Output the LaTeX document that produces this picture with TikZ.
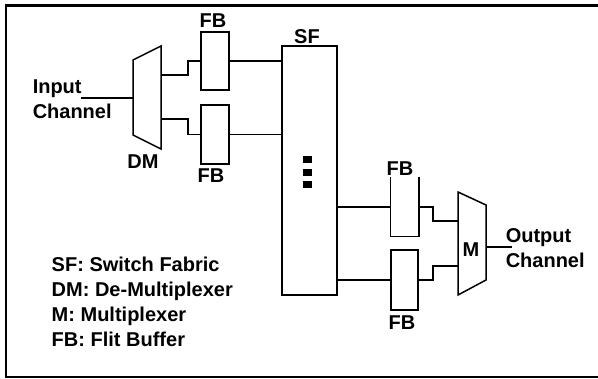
\documentclass[tikz,border=0pt]{standalone}
\usepackage{fontspec}
\setmainfont{Liberation Sans}
\begin{document}
\begin{tikzpicture}[x=1pt,y=-1pt,line width=1.5pt,
  lbl/.style={font=\bfseries\fontsize{20}{25}\selectfont,inner sep=0pt},
  ml/.style={lbl,align=left,anchor=north west},
  bufbox/.style={draw,inner sep=0pt,minimum width=28pt},
  plainbox/.style={inner sep=0pt,minimum width=27pt},
  dotsq/.style={fill=black,draw=none}]
\useasboundingbox (0,0) rectangle (598,379);
% frame
\draw[line width=3pt] (4.5,6) -- (599,6);
\draw[line width=2pt] (6,5) -- (6,378);
\draw[line width=2pt] (5,377) -- (599,377);
% input text
\node[ml] (intext) at (32,78.7) {Input\\Channel};
% demultiplexer
\coordinate (dmTL) at (133,60);
\coordinate (dmBL) at (133,135);
\coordinate (dmTR) at (161,46);
\coordinate (dmBR) at (161,149);
\draw (dmTL) -- (dmTR) -- (dmBR) -- (dmBL) -- cycle;
\coordinate (dmIn) at (133,98);
\coordinate (inEnd) at (81,98);
\coordinate (dmO1) at (161,75);
\coordinate (dmO2) at (161,119);
\node[lbl] (dmlbl) at (143,162) {DM};
% flit buffers (input side)
\node[bufbox,minimum height=58pt] (fb1) at (215,61) {};
\node[bufbox,minimum height=59pt] (fb2) at (215,134.5) {};
\node[lbl,anchor=base] (fb1lbl) at (213,28) {FB};
\node[lbl,anchor=base] (fb2lbl) at (211,183) {FB};
% switch fabric
\node[draw,inner sep=0pt,minimum width=55pt,minimum height=249pt] (sf) at (309.5,170.5) {};
\node[lbl,anchor=base] (sflbl) at (307,44) {SF};
\fill[dotsq] (303,156) rectangle (312,163);
\fill[dotsq] (303,169) rectangle (312,176);
\fill[dotsq] (303,181) rectangle (312,188);
% flit buffers (output side)
\node[plainbox,minimum height=58pt] (fb3) at (404.5,207) {};
\draw (fb3.north west) -- (fb3.south west) -- (fb3.south east) -- (fb3.north east);
\node[bufbox,minimum width=27pt,minimum height=60pt] (fb4) at (404.5,280) {};
\node[lbl,anchor=base] (fb3lbl) at (400,176) {FB};
\node[lbl,anchor=base] (fb4lbl) at (402,330) {FB};
% multiplexer
\coordinate (mTL) at (458,192);
\coordinate (mBL) at (458,295);
\coordinate (mTR) at (486,205);
\coordinate (mBR) at (486,280);
\draw (mTL) -- (mTR) -- (mBR) -- (mBL) -- cycle;
\coordinate (mI1) at (458,221);
\coordinate (mI2) at (458,266);
\coordinate (mOut) at (486,247);
\coordinate (outEnd) at (512,247);
\node[lbl] (mlbl) at (471,250) {M};
\node[ml] (outtext) at (505,227.7) {Output\\Channel};
% connectors
\draw (inEnd) -- (dmIn);
\draw (dmO1) -- ++(27,0) |- (fb1.west);
\draw (dmO2) -- ++(27,0) |- (fb2.west);
\draw (fb1.east) -- (fb1.east -| sf.west);
\draw (fb2.east) -- (fb2.east -| sf.west);
\draw (sf.east |- fb3.west) -- (fb3.west);
\draw (sf.east |- fb4.west) -- (fb4.west);
\draw (fb3.east) -- ++(14,0) |- (mI1);
\draw (fb4.east) -- ++(14,0) |- (mI2);
\draw (mOut) -- (outEnd);
% legend
\node[ml] (legend) at (51,256.7) {SF: Switch Fabric\\DM: De-Multiplexer\\M: Multiplexer\\FB: Flit Buffer};
\end{tikzpicture}
\end{document}
